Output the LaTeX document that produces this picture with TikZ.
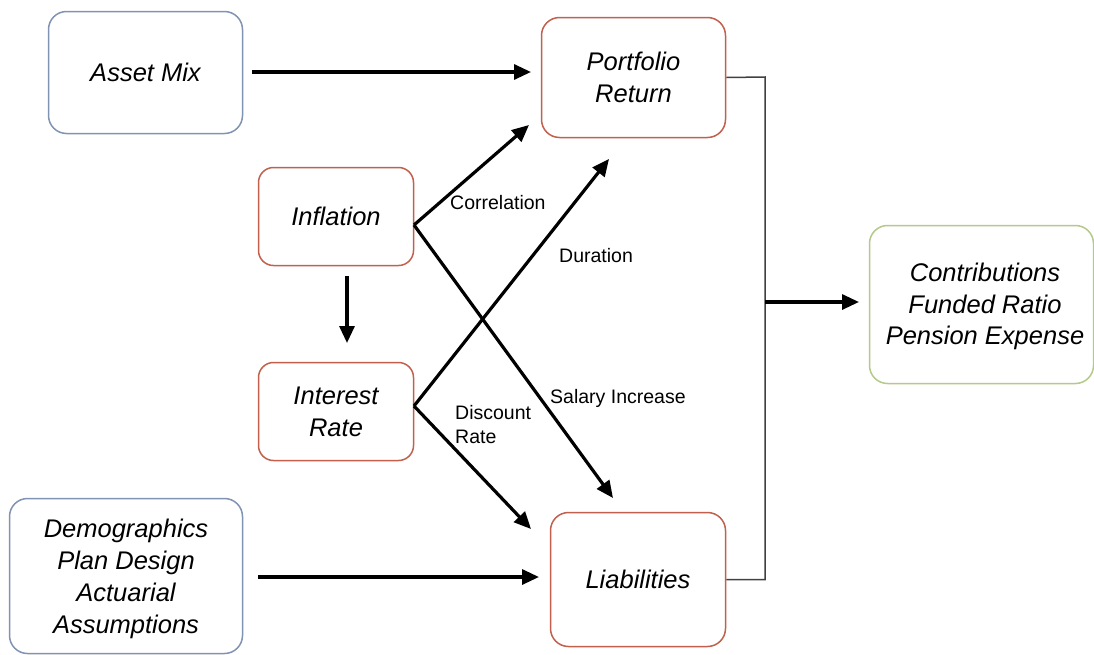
\documentclass[tikz,border=0pt]{standalone}
\usepackage{fontspec}
\setmainfont{Liberation Sans}
\usetikzlibrary{arrows.meta}
\definecolor{bluebd}{HTML}{8093B3}
\definecolor{redbd}{HTML}{C0604D}
\definecolor{greenbd}{HTML}{B5C98A}
\tikzset{
  box/.style={draw, line width=1.5pt, rounded corners=18pt, fill=white, align=center,
    font=\fontsize{25.5}{31.8}\selectfont\itshape, inner sep=0pt},
  bluebox/.style={box, draw=bluebd},
  redbox/.style={box, draw=redbd},
  greenbox/.style={box, draw=greenbd},
  arr/.style={line width=3.2pt, -{Triangle[length=17pt,width=15pt]}},
  thinline/.style={line width=1.5pt, draw=black!75},
  lbl/.style={font=\fontsize{19.5}{24}\selectfont, inner sep=0pt}
}
\begin{document}
\begin{tikzpicture}[x=1pt,y=-1pt]
\useasboundingbox (0,0) rectangle (1094,654);
% boxes
\node[bluebox, minimum width=194pt, minimum height=122pt] (asset) at (145.5,72.5) {Asset Mix};
\node[redbox, minimum width=184pt, minimum height=120pt] (port) at (633.5,77.5) {Portfolio\\Return};
\node[redbox, rounded corners=15pt, minimum width=155pt, minimum height=98pt] (infl) at (336,216.5) {Inflation};
\node[redbox, rounded corners=15pt, minimum width=155pt, minimum height=98pt] (inte) at (336,411.5) {Interest\\Rate};
\node[bluebox, minimum width=233pt, minimum height=155pt] (demo) at (126,576) {};
\node[font=\fontsize{25.5}{31.8}\selectfont\itshape, align=center, inner sep=0pt] (demotext) at (126,579) {Demographics\\Plan Design\\Actuarial\\Assumptions};
\node[redbox, minimum width=175pt, minimum height=134pt] (liab) at (638,579.5) {Liabilities};
\node[greenbox, minimum width=224pt, minimum height=158pt] (contr) at (981.5,304.5) {};
\node[font=\fontsize{25.5}{31.8}\selectfont\itshape, align=center, inner sep=0pt] (contrtext) at (985,306.5) {Contributions\\Funded Ratio\\Pension Expense};
% free ends
\coordinate (a1) at (252,72);
\coordinate (a2) at (531,72);
\coordinate (i0) at (347,276);
\coordinate (i1) at (347,343);
\coordinate (io) at (414,225);
\coordinate (corr) at (529,125);
\coordinate (sal) at (613,498);
\coordinate (ro) at (414,406);
\coordinate (dur) at (609,159);
\coordinate (disc) at (531,529);
\coordinate (d1) at (258,577);
\coordinate (d2) at (539,577);
\coordinate (bus) at (765,77);
\coordinate (j) at (765,302);
\coordinate (c1) at (859,302);
% connectors
\draw[arr] (a1) -- (a2);
\draw[arr] (i0) -- (i1);
\draw[arr] (io) -- (corr);
\draw[arr] (io) -- (sal);
\draw[arr] (ro) -- (dur);
\draw[arr] (ro) -- (disc);
\draw[arr] (d1) -- (d2);
\draw[thinline] (port.east) -- (bus) |- (liab.east);
\draw[arr] (j) -- (c1);
% labels
\node[lbl, anchor=west] (lcorr) at (450,203) {Correlation};
\node[lbl, anchor=west] (ldur) at (559,256) {Duration};
\node[lbl, anchor=west] (lsal) at (550,398) {Salary Increase};
\node[lbl, anchor=west, align=left] (ldisc) at (455,425) {Discount\\Rate};
\end{tikzpicture}
\end{document}
